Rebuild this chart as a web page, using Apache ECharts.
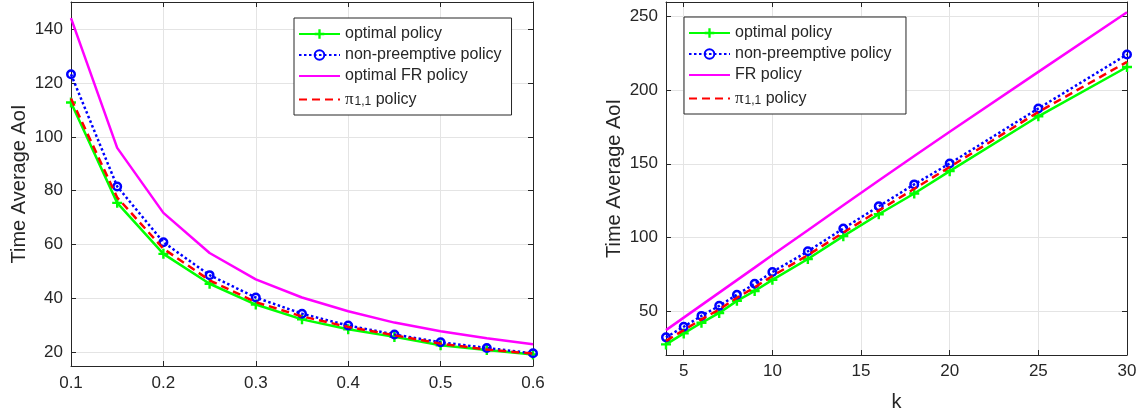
<!DOCTYPE html>
<html>
<head>
<meta charset="utf-8">
<script src="https://cdn.jsdelivr.net/npm/echarts@6/dist/echarts.min.js"></script>
<style>
html,body{margin:0;padding:0;background:#fff;}
#c{width:1144px;height:417px;}
</style>
</head>
<body>
<div id="c"></div>
<script>
// ---- Data: left panel (x = arrival rate) ----
const xLeft = [0.1, 0.15, 0.2, 0.25, 0.3, 0.35, 0.4, 0.45, 0.5, 0.55, 0.6];
const optimalLeft = [112.7, 75.5, 56.6, 45.5, 37.8, 32.3, 28.6, 25.8, 22.7, 20.9, 19.3];
const nonPreLeft  = [123.2, 81.6, 60.9, 48.7, 40.4, 34.4, 30.0, 26.7, 23.8, 21.7, 19.7];
const frLeft      = [144.0, 95.9, 71.8, 56.9, 47.1, 40.4, 35.3, 31.1, 27.9, 25.3, 23.1];
const pi11Left    = [114.2, 77.5, 58.5, 46.8, 38.7, 33.4, 29.5, 26.4, 23.3, 21.1, 19.6];

// ---- Data: right panel (x = k) ----
const xRight = [4, 5, 6, 7, 8, 9, 10, 12, 14, 16, 18, 20, 25, 30];
const optimalRight = [27.2, 34.7, 41.9, 48.6, 56.8, 63.5, 71.1, 85.3, 100.8, 115.7, 129.8, 145.0, 182.3, 215.8];
const nonPreRight  = [32.0, 39.2, 46.6, 53.4, 61.0, 68.4, 76.4, 90.5, 106.0, 121.1, 136.0, 150.2, 187.6, 224.3];
const frRight      = [36.9, 45.4, 53.9, 62.4, 70.9, 79.4, 88.0, 104.8, 121.8, 138.6, 155.3, 171.8, 212.5, 253.0];
const pi11Right    = [29.6, 36.9, 44.2, 51.0, 58.9, 66.0, 73.7, 87.9, 103.2, 118.2, 133.0, 147.8, 185.2, 219.3];

// ---- Tick labels ----
const xTicksLeft = [0.1, 0.2, 0.3, 0.4, 0.5, 0.6];
const yTicksLeft = [20, 40, 60, 80, 100, 120, 140];
const xTicksRight = [5, 10, 15, 20, 25, 30];
const yTicksRight = [50, 100, 150, 200, 250];

const namesLeft = ['optimal policy', 'non-preemptive policy', 'optimal FR policy', 'pi11'];
const namesRight = ['optimal policy ', 'non-preemptive policy ', 'FR policy', 'pi11 '];
const yTitle = 'Time Average AoI';
const xTitleRight = 'k';

const AX = '#262626';
const GRID = '#e4e4e4';
const FONT = 'Liberation Sans, Arial, Helvetica, sans-serif';
const PLUS = 'path://M-1.2,-5L1.2,-5L1.2,-1.2L5,-1.2L5,1.2L1.2,1.2L1.2,5L-1.2,5L-1.2,1.2L-5,1.2L-5,-1.2L-1.2,-1.2Z';

function zip(xs, ys) { return xs.map((x, i) => [x, ys[i]]); }

function mainAxis(gridIndex, min, max, ticks, pos, extra) {
  return Object.assign({
    type: 'value', gridIndex, min, max, position: pos,
    axisLine: { show: true, onZero: false, lineStyle: { color: AX, width: 1 } },
    axisTick: { show: true, inside: true, length: 5, customValues: ticks, lineStyle: { color: AX } },
    axisLabel: { show: true, customValues: ticks, color: AX, fontSize: 17, fontFamily: FONT, margin: 8,
      formatter: v => String(Math.round(v * 100) / 100) },
    splitLine: { show: true, lineStyle: { color: GRID, width: 1 } }
  }, extra || {});
}
function boxAxis(gridIndex, min, max, ticks, pos) {
  return {
    type: 'value', gridIndex, min, max, position: pos,
    axisLine: { show: true, onZero: false, lineStyle: { color: AX, width: 1 } },
    axisTick: { show: true, inside: true, length: 5, customValues: ticks, lineStyle: { color: AX } },
    axisLabel: { show: false },
    splitLine: { show: false }
  };
}

function makeSeries(names, xs, opt, np, fr, pi, xi, yi) {
  return [
    { name: names[0], type: 'line', xAxisIndex: xi, yAxisIndex: yi, data: zip(xs, opt), clip: false,
      symbol: PLUS, symbolSize: 10, showSymbol: true,
      lineStyle: { color: '#00ff00', width: 2.5, type: 'solid' },
      itemStyle: { color: '#00ff00' }, z: 2 },
    { name: names[1], type: 'line', xAxisIndex: xi, yAxisIndex: yi, data: zip(xs, np), clip: false,
      symbol: 'circle', symbolSize: 7.5, showSymbol: true,
      lineStyle: { color: '#0000ff', width: 2.5, type: [2.5, 2.5] },
      itemStyle: { color: 'rgba(255,255,255,0)', borderColor: '#0000ff', borderWidth: 2.5 }, z: 3 },
    { name: names[2], type: 'line', xAxisIndex: xi, yAxisIndex: yi, data: zip(xs, fr), clip: false,
      symbol: 'circle', symbolSize: 0, showSymbol: false,
      lineStyle: { color: '#ff00ff', width: 2.5, type: 'solid' },
      itemStyle: { color: 'rgba(0,0,0,0)', borderWidth: 0 }, z: 4 },
    { name: names[3], type: 'line', xAxisIndex: xi, yAxisIndex: yi, data: zip(xs, pi), clip: false,
      symbol: 'circle', symbolSize: 0, showSymbol: false,
      lineStyle: { color: '#ff0000', width: 2.5, type: [8, 5] },
      itemStyle: { color: 'rgba(0,0,0,0)', borderWidth: 0 }, z: 5 }
  ];
}

function legend(names, left, top) {
  return {
    orient: 'vertical', left, top, data: names,
    itemWidth: 41, itemHeight: 12, itemGap: 5,
    padding: [8, 10, 7, 4],
    backgroundColor: '#fff', borderColor: AX, borderWidth: 1, borderRadius: 0,
    selectedMode: false,
    textStyle: { color: AX, fontSize: 16, fontFamily: FONT,
      rich: {
        pi: { fontSize: 17, fontFamily: 'Liberation Serif, DejaVu Serif, serif', color: AX },
        sub: { fontSize: 12, fontFamily: FONT, color: AX, verticalAlign: 'bottom', lineHeight: 14, padding: [7, 0, 0, 1] },
        t: { fontSize: 16, fontFamily: FONT, color: AX }
      }
    },
    formatter: n => n.trim() === 'pi11' ? '{pi|π}{sub|1,1}{t| policy}' : n
  };
}

const chart = echarts.init(document.getElementById('c'), null, { renderer: 'canvas' });
chart.setOption({
  animation: false,
  backgroundColor: '#fff',
  grid: [
    { left: 71, top: 2, width: 462, height: 364 },
    { left: 666, top: 2, width: 461, height: 354 }
  ],
  xAxis: [
    mainAxis(0, 0.1, 0.6, xTicksLeft, 'bottom', { axisLabel: { show: true, customValues: xTicksLeft, color: AX, fontSize: 17, fontFamily: FONT, margin: 9, formatter: v => v.toFixed(1) } }),
    mainAxis(1, 4, 30, xTicksRight, 'bottom', { name: xTitleRight, nameLocation: 'middle', nameGap: 37,
      nameTextStyle: { color: AX, fontSize: 20, fontFamily: FONT } }),
    boxAxis(0, 0.1, 0.6, xTicksLeft, 'top'),
    boxAxis(1, 4, 30, xTicksRight, 'top')
  ],
  yAxis: [
    mainAxis(0, 15, 150, yTicksLeft, 'left', { name: yTitle, nameLocation: 'middle', nameGap: 42, nameRotate: 90,
      nameTextStyle: { color: AX, fontSize: 20, fontFamily: FONT } }),
    mainAxis(1, 20, 260, yTicksRight, 'left', { name: yTitle, nameLocation: 'middle', nameGap: 42, nameRotate: 90,
      nameTextStyle: { color: AX, fontSize: 20, fontFamily: FONT } }),
    boxAxis(0, 15, 150, yTicksLeft, 'right'),
    boxAxis(1, 20, 260, yTicksRight, 'right')
  ],
  legend: [legend(namesLeft, 294, 18), legend(namesRight, 684, 17)],
  series: [].concat(
    makeSeries(namesLeft, xLeft, optimalLeft, nonPreLeft, frLeft, pi11Left, 0, 0),
    makeSeries(namesRight, xRight, optimalRight, nonPreRight, frRight, pi11Right, 1, 1)
  )
});
</script>
</body>
</html>
